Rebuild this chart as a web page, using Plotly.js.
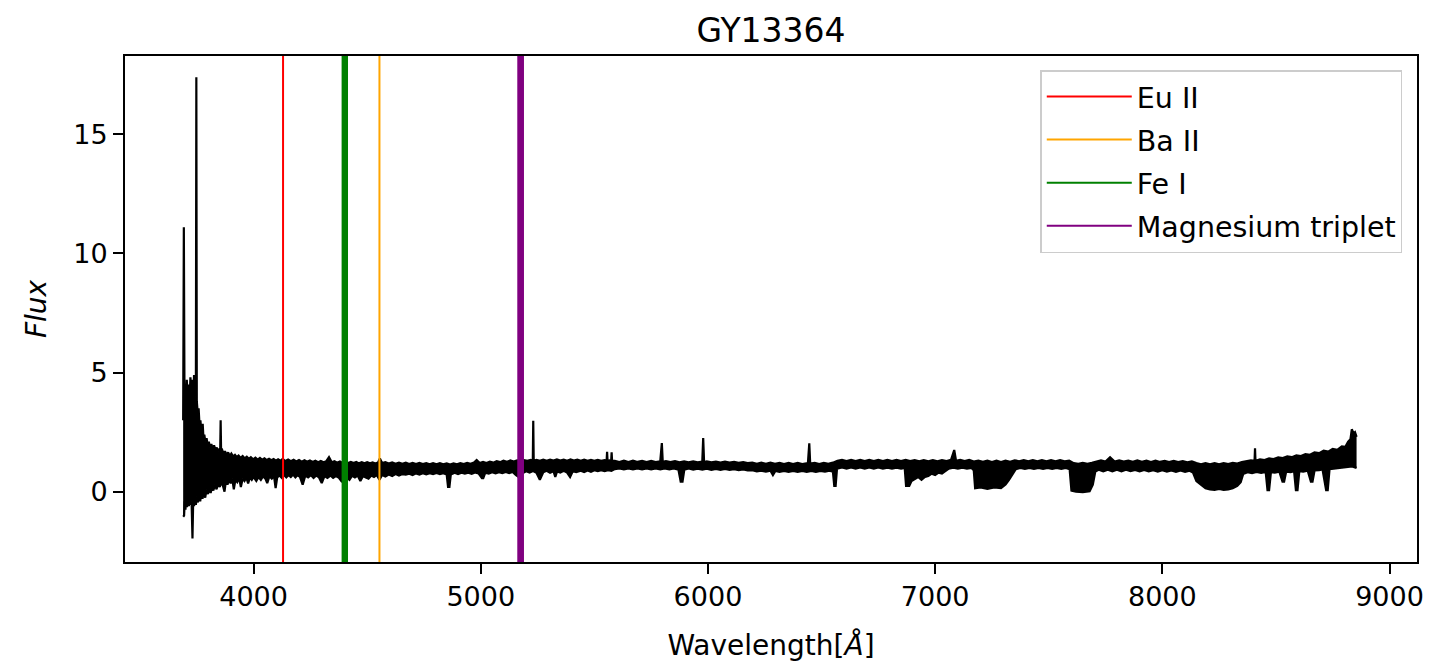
<!DOCTYPE html>
<html><head><meta charset="utf-8">
<script src="https://cdn.plot.ly/plotly-3.0.1.min.js"></script>
<style>html,body{margin:0;padding:0;background:#fff;}#chart{width:1429px;height:669px;}</style>
</head><body><div id="chart"></div>
<script>
// Upper edge of the plotted spectrum band (wavelength in Angstrom, flux)
const upperWavelength = [3690,3693,3696,3699,3702,3706,3710,3714,3718,3722,3726,3730,3734,3738,3742,3746,3748,3750,3754,3758,3762,3766,3770,3773,3776,3779,3783,3788,3793,3798,3803,3808,3814,3820,3826,3832,3838,3844,3850,3853,3855,3857,3862,3868,3874,3881,3888,3895,3902,3910,3918,3926,3934,3943,3952,3961,3970,3979,3988,3998,4008,4018,4028,4038,4048,4058,4068,4078,4088,4098,4108,4118,4128,4140,4152,4164,4176,4188,4200,4212,4224,4236,4248,4260,4272,4284,4296,4308,4320,4332,4344,4356,4368,4380,4392,4404,4416,4428,4440,4452,4464,4476,4488,4500,4512,4524,4536,4548,4556,4566,4580,4595,4610,4625,4640,4655,4670,4685,4700,4715,4730,4745,4760,4775,4790,4805,4820,4835,4850,4865,4880,4895,4910,4925,4940,4955,4970,4982,4995,5010,5025,5040,5055,5070,5085,5100,5115,5130,5145,5160,5175,5190,5205,5220,5229,5231,5233,5245,5260,5275,5290,5305,5320,5335,5350,5365,5380,5395,5410,5425,5440,5455,5470,5485,5500,5515,5530,5545,5554,5556,5558,5566,5574,5576,5578,5590,5610,5630,5650,5670,5690,5710,5730,5750,5770,5790,5797,5801,5815,5835,5855,5875,5895,5915,5935,5955,5975,5979,5983,5995,6015,6035,6055,6075,6095,6115,6135,6155,6175,6195,6215,6235,6255,6275,6295,6315,6335,6355,6375,6395,6415,6440,6446,6450,6470,6490,6510,6530,6550,6570,6590,6610,6630,6650,6670,6690,6710,6730,6750,6770,6790,6810,6830,6850,6870,6890,6910,6930,6950,6970,6990,7010,7030,7050,7070,7084,7092,7110,7130,7150,7170,7190,7210,7230,7250,7270,7290,7310,7330,7350,7370,7390,7410,7430,7450,7470,7490,7510,7530,7550,7570,7590,7610,7630,7650,7670,7690,7710,7730,7750,7770,7790,7810,7830,7850,7870,7890,7910,7930,7950,7970,7990,8010,8030,8050,8070,8090,8110,8130,8150,8170,8190,8210,8230,8250,8270,8290,8310,8330,8350,8370,8390,8406,8408,8410,8430,8450,8470,8490,8510,8530,8550,8570,8590,8610,8630,8650,8670,8690,8710,8730,8750,8770,8790,8805,8818,8828,8834,8842,8848,8855];
const upperFlux = [3.0,11.1,3.5,4.3,3.6,4.7,3.9,4.5,3.7,4.8,4.2,4.7,3.8,4.9,4.1,4.0,17.4,3.8,3.3,3.5,2.8,3.0,2.5,2.6,2.85,2.3,2.4,2.1,2.25,1.95,2.1,1.85,2.0,1.8,1.95,1.75,1.85,1.7,1.8,1.7,3.0,1.7,1.75,1.6,1.7,1.55,1.65,1.5,1.6,1.48,1.55,1.45,1.52,1.42,1.5,1.4,1.47,1.38,1.45,1.36,1.43,1.35,1.42,1.34,1.4,1.33,1.38,1.32,1.37,1.3,1.36,1.3,1.38,1.29,1.35,1.28,1.34,1.27,1.33,1.26,1.32,1.26,1.31,1.25,1.3,1.24,1.29,1.24,1.28,1.45,1.24,1.28,1.22,1.27,1.21,1.26,1.2,1.25,1.2,1.25,1.19,1.24,1.19,1.24,1.19,1.23,1.18,1.23,1.4,1.2,1.24,1.18,1.23,1.17,1.22,1.17,1.22,1.16,1.21,1.16,1.21,1.16,1.2,1.15,1.2,1.15,1.2,1.15,1.19,1.14,1.19,1.15,1.2,1.16,1.21,1.17,1.22,1.33,1.2,1.25,1.2,1.26,1.22,1.28,1.24,1.3,1.26,1.31,1.27,1.32,1.28,1.33,1.3,1.34,1.3,2.98,1.3,1.34,1.3,1.35,1.3,1.35,1.31,1.36,1.31,1.35,1.3,1.36,1.31,1.35,1.3,1.35,1.3,1.34,1.3,1.34,1.3,1.33,1.3,1.68,1.3,1.32,1.3,1.65,1.3,1.3,1.25,1.3,1.25,1.3,1.25,1.29,1.24,1.29,1.24,1.28,2.04,1.25,1.28,1.24,1.28,1.23,1.27,1.23,1.27,1.23,1.26,2.25,1.24,1.27,1.23,1.26,1.22,1.26,1.22,1.25,1.21,1.24,1.2,1.22,1.17,1.22,1.17,1.22,1.17,1.21,1.16,1.21,1.16,1.21,1.16,1.2,2.03,1.18,1.21,1.16,1.21,1.17,1.22,1.3,1.34,1.29,1.34,1.29,1.34,1.29,1.34,1.29,1.34,1.29,1.34,1.29,1.34,1.29,1.34,1.29,1.33,1.28,1.33,1.28,1.33,1.28,1.33,1.29,1.34,1.75,1.3,1.34,1.29,1.34,1.27,1.31,1.26,1.3,1.25,1.3,1.25,1.3,1.26,1.32,1.28,1.33,1.28,1.33,1.28,1.33,1.28,1.33,1.28,1.33,1.28,1.3,1.2,1.17,1.21,1.17,1.21,1.26,1.32,1.27,1.45,1.27,1.32,1.27,1.31,1.26,1.31,1.26,1.3,1.25,1.3,1.25,1.29,1.24,1.29,1.24,1.28,1.23,1.27,1.2,1.15,1.2,1.15,1.2,1.15,1.2,1.16,1.21,1.18,1.24,1.28,1.32,1.3,1.82,1.3,1.36,1.33,1.4,1.37,1.44,1.41,1.48,1.45,1.53,1.5,1.58,1.55,1.65,1.62,1.72,1.68,1.8,1.76,1.9,1.88,2.1,2.2,2.62,2.45,2.5,2.3];

// Lower edge of the plotted spectrum band
const lowerWavelength = [3690,3694,3697,3700,3703,3707,3711,3715,3719,3723,3727,3731,3734,3738,3742,3746,3750,3755,3760,3765,3770,3775,3781,3787,3793,3799,3805,3811,3817,3823,3830,3837,3844,3851,3858,3865,3872,3878,3885,3892,3899,3906,3913,3920,3928,3936,3944,3952,3960,3968,3976,3984,3992,4000,4012,4022,4032,4042,4052,4060,4070,4080,4090,4097,4104,4114,4124,4134,4144,4154,4164,4174,4184,4194,4204,4216,4228,4240,4252,4264,4276,4288,4300,4312,4325,4338,4350,4362,4374,4386,4398,4410,4422,4434,4446,4458,4470,4482,4494,4506,4518,4530,4542,4554,4566,4580,4595,4610,4625,4640,4655,4670,4685,4700,4715,4730,4745,4760,4775,4790,4805,4820,4835,4850,4856,4862,4868,4885,4900,4915,4930,4945,4960,4975,4990,5005,5011,5020,5035,5050,5065,5080,5095,5110,5125,5140,5155,5170,5185,5200,5215,5230,5245,5260,5275,5290,5305,5320,5328,5336,5350,5365,5380,5393,5405,5420,5440,5455,5470,5485,5500,5515,5530,5545,5560,5575,5590,5610,5630,5650,5670,5690,5710,5730,5750,5770,5790,5810,5830,5850,5870,5880,5888,5896,5915,5935,5955,5975,5995,6015,6035,6055,6075,6095,6115,6135,6155,6175,6195,6215,6235,6255,6275,6286,6297,6315,6335,6355,6375,6395,6415,6435,6455,6475,6495,6515,6535,6550,6556,6562,6568,6590,6610,6630,6650,6670,6690,6710,6730,6750,6770,6790,6810,6830,6850,6866,6872,6886,6896,6910,6925,6940,6955,6970,6985,7000,7015,7030,7045,7060,7080,7100,7120,7140,7160,7170,7176,7200,7230,7260,7290,7310,7325,7340,7355,7375,7395,7415,7435,7455,7475,7495,7515,7535,7555,7575,7592,7600,7620,7650,7680,7694,7705,7720,7740,7760,7780,7800,7820,7840,7860,7880,7900,7920,7940,7960,7980,8000,8020,8040,8060,8080,8100,8120,8135,8150,8170,8190,8210,8230,8250,8270,8290,8310,8330,8345,8356,8375,8395,8415,8435,8455,8463,8470,8478,8495,8515,8529,8536,8545,8565,8580,8588,8595,8603,8620,8640,8654,8661,8670,8690,8705,8721,8728,8736,8755,8775,8795,8815,8835,8848,8855];
const lowerFlux = [-1.05,-1.0,-0.4,-0.75,-0.3,-0.65,-0.35,-0.6,-0.25,-0.55,-0.4,-1.96,-0.45,-0.6,-0.3,-0.55,-0.2,-0.45,-0.1,-0.4,-0.05,-0.3,0.0,-0.25,0.1,-0.1,0.15,-0.05,0.2,0.05,0.3,0.1,0.35,0.2,0.4,0.25,0.0,0.45,0.3,0.5,0.35,0.55,0.1,0.5,0.4,0.58,0.2,0.55,0.45,0.6,0.35,0.6,0.5,0.62,0.45,0.62,0.5,0.65,0.55,0.36,0.65,0.55,0.66,0.15,0.6,0.68,0.58,0.7,0.6,0.7,0.62,0.72,0.6,0.7,0.62,0.3,0.68,0.6,0.7,0.58,0.68,0.6,0.36,0.66,0.58,0.68,0.58,0.66,0.6,0.45,0.66,0.6,0.5,0.67,0.6,0.68,0.45,0.66,0.6,0.55,0.68,0.62,0.7,0.5,0.7,0.64,0.72,0.66,0.74,0.68,0.74,0.72,0.76,0.7,0.77,0.72,0.78,0.73,0.78,0.74,0.79,0.74,0.78,0.72,0.2,0.2,0.72,0.8,0.74,0.8,0.76,0.8,0.75,0.81,0.77,0.57,0.57,0.8,0.76,0.82,0.77,0.82,0.78,0.83,0.78,0.83,0.7,0.6,0.78,0.86,0.8,0.87,0.8,0.5,0.82,0.88,0.8,0.86,0.62,0.85,0.8,0.88,0.8,0.62,0.86,0.82,0.88,0.83,0.89,0.84,0.9,0.86,0.9,0.86,0.9,0.88,0.95,0.98,0.94,0.98,0.94,0.98,0.94,0.98,0.94,0.98,0.94,0.98,0.94,0.98,0.93,0.42,0.42,0.93,0.98,0.93,0.97,0.93,0.97,0.92,0.96,0.92,0.96,0.92,0.95,0.91,0.94,0.9,0.9,0.85,0.88,0.84,0.88,0.7,0.87,0.83,0.87,0.83,0.87,0.83,0.87,0.83,0.87,0.83,0.87,0.84,0.88,0.84,0.24,0.24,0.97,1.02,0.97,1.02,0.97,1.02,0.97,1.02,0.97,1.02,0.97,1.01,0.97,1.01,0.97,1.0,0.24,0.24,0.45,0.55,0.62,0.5,0.62,0.66,0.76,0.7,0.8,0.76,0.88,0.97,1.01,0.97,1.01,0.97,1.0,0.9,0.15,0.18,0.12,0.18,0.15,0.3,0.5,0.72,0.95,1.0,0.96,1.0,0.96,1.0,0.96,1.0,0.96,1.0,0.96,1.0,0.95,0.05,0.0,-0.02,0.02,0.3,0.85,0.92,0.86,0.92,0.86,0.92,0.86,0.92,0.86,0.91,0.85,0.91,0.85,0.9,0.84,0.9,0.84,0.89,0.83,0.89,0.83,0.88,0.8,0.45,0.28,0.15,0.1,0.08,0.12,0.08,0.1,0.15,0.25,0.4,0.75,0.82,0.78,0.83,0.79,0.83,0.07,0.07,0.82,0.8,0.84,0.42,0.42,0.84,0.82,0.86,0.07,0.07,0.86,0.84,0.88,0.42,0.42,0.89,0.9,0.94,0.07,0.07,0.95,0.97,1.0,1.03,1.05,1.06,1.02,1.0];

// Marked spectral lines
const lineNames = ['Eu II', 'Ba II', 'Fe I', 'Magnesium triplet'];
const lineColors = ['#ff0000', '#ffa500', '#008000', '#800080'];
const lineWavelengths = [[4129.7], [4554.0], [4394, 4399, 4404, 4409], [5167.3, 5172.7, 5178.2, 5183.6]];
const lineWidths = [2, 2, 3, 3];

// Axes
const xRange = [3434, 9121];
const yRange = [-2.95, 18.29];
const xTicks = [4000, 5000, 6000, 7000, 8000, 9000];
const yTicks = [0, 5, 10, 15];

const FONT = 'DejaVu Sans';
const traces = [];
traces.push({x: lowerWavelength, y: lowerFlux, mode: 'lines', line: {color: '#000', width: 2.2},
  showlegend: false, hoverinfo: 'skip', legendgroup: 'spec'});
traces.push({x: upperWavelength, y: upperFlux, mode: 'lines', line: {color: '#000', width: 2.2},
  fill: 'tonexty', fillcolor: '#000', showlegend: false, hoverinfo: 'skip', legendgroup: 'spec'});

lineNames.forEach((name, i) => {
  const xs = [], ys = [];
  lineWavelengths[i].forEach((w, j) => {
    if (j > 0) { xs.push(null); ys.push(null); }
    xs.push(w, w); ys.push(yRange[0] - 5, yRange[1] + 5);
  });
  traces.push({x: xs, y: ys, mode: 'lines', name: name, legendgroup: 'g' + i, showlegend: false,
    line: {color: lineColors[i], width: lineWidths[i]}, connectgaps: false, hoverinfo: 'skip'});
});
// legend entries (uniform thin handles, as in the reference legend)
lineNames.forEach((name, i) => {
  traces.push({x: [null], y: [null], mode: 'lines', name: name, legendgroup: 'g' + i,
    showlegend: true, line: {color: lineColors[i], width: 2}, hoverinfo: 'skip'});
});

const axisCommon = {
  showgrid: false, zeroline: false, showline: true, mirror: true,
  linecolor: '#000', linewidth: 2, ticks: 'outside', ticklen: 10, tickwidth: 2,
  tickcolor: '#000', tickfont: {family: FONT, size: 27, color: '#000'}
};

const layout = {
  width: 1429, height: 669,
  margin: {l: 125, r: 12, t: 56, b: 107, pad: 0},
  paper_bgcolor: '#fff', plot_bgcolor: '#fff',
  font: {family: FONT, color: '#000'},
  title: {text: 'GY13364', font: {family: FONT, size: 33, color: '#000'},
    x: 0.5, xref: 'paper', xanchor: 'center', y: 1 - 30 / 669, yref: 'container', yanchor: 'middle'},
  xaxis: Object.assign({}, axisCommon, {range: xRange, tickvals: xTicks,
    ticktext: xTicks.map(String),
    title: {text: 'Wavelength[<i>Å</i>]', font: {family: FONT, size: 28, color: '#000'}, standoff: 24}}),
  yaxis: Object.assign({}, axisCommon, {range: yRange, tickvals: yTicks,
    ticktext: yTicks.map(String),
    title: {text: '<i>Flux</i>', font: {family: FONT, size: 28, color: '#000'}, standoff: 18}}),
  legend: {x: 0.9886, xanchor: 'right', y: 0.9723, yanchor: 'top',
    bgcolor: 'rgba(255,255,255,0.8)', bordercolor: '#cccccc', borderwidth: 1.5,
    font: {family: FONT, size: 28.5, color: '#000'}, tracegroupgap: 3, itemwidth: 85,
    traceorder: 'grouped'},
  showlegend: true
};

Plotly.newPlot('chart', traces, layout, {staticPlot: true, displayModeBar: false});
</script>
</body></html>
